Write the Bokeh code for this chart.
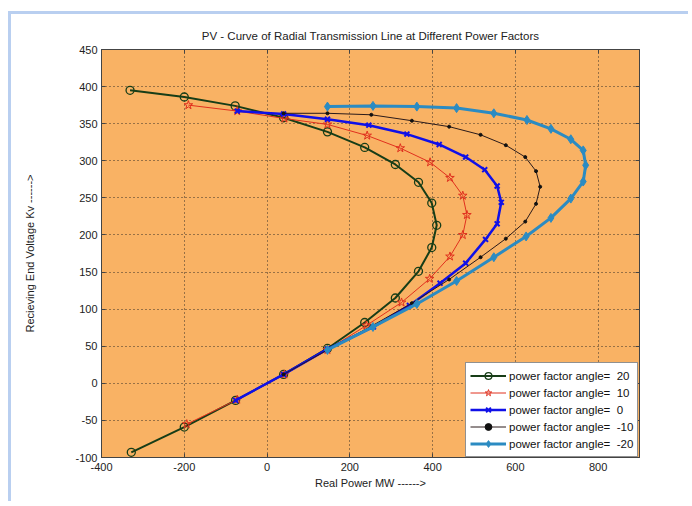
from bokeh.plotting import figure
from bokeh.models import LinearAxis, Range1d, FixedTicker, Legend
from bokeh.embed import file_html
from bokeh.resources import INLINE

# ---- data ----
series_labels = ["power factor angle=  20", "power factor angle=  10",
                 "power factor angle=  0", "power factor angle=  -10",
                 "power factor angle=  -20"]

g_x = [-331, -200, -77, 40, 146, 236, 310, 366, 398, 410, 398, 366, 310, 236, 146, 40, -76, -200, -328]
g_y = [395, 386, 374, 358, 339, 318, 295, 271, 243, 213, 183, 151, 115, 82, 47, 12, -23, -59, -93]

r_x = [-190, -72, 42, 146, 242, 322, 394, 442, 473, 483, 473, 442, 393, 325, 240, 146, 42, -72, -194]
r_y = [375, 367, 357, 349, 334, 317, 298, 277, 253, 227, 200, 171, 141, 109, 78, 45, 12, -22, -55]

b_x = [-72, 40, 146, 246, 338, 416, 480, 526, 556, 566, 556, 528, 480, 418, 344, 257, 146, 40, -76]
b_y = [367, 363, 356, 348, 336, 322, 305, 288, 266, 244, 215, 194, 162, 135, 105, 76, 46, 12, -23]

k_x = [40, 146, 252, 350, 440, 516, 577, 624, 650, 660, 650, 624, 577, 516, 440, 350, 252, 146, 40]
k_y = [364, 364, 362, 354, 346, 335, 321, 305, 286, 265, 242, 218, 195, 170, 140, 108, 77, 45, 12]

c_x = [146, 256, 362, 458, 548, 628, 686, 734, 764, 770, 764, 734, 686, 626, 548, 458, 362, 256, 146]
c_y = [373, 374, 373, 371, 364, 355, 343, 329, 314, 294, 272, 249, 223, 198, 170, 138, 107, 76, 45]

x_ticks = [-400, -200, 0, 200, 400, 600, 800]
y_ticks = [-100, -50, 0, 50, 100, 150, 200, 250, 300, 350, 400, 450]

FONT = "Liberation Sans"

p = figure(width=680, height=490, output_backend="svg", toolbar_location=None,
           x_range=Range1d(-400, 900), y_range=Range1d(-100, 450),
           min_border_left=90, min_border_top=35, min_border_right=52, min_border_bottom=47,
           background_fill_color="#f9b264", border_fill_color="white",
           title="PV - Curve of Radial Transmission Line at Different Power Factors")
p.styles = {"border-left": "3px solid #b9cff0", "border-top": "3px solid #b9cff0",
            "margin-top": "11px", "margin-left": "8px"}

p.title.align = "center"
p.title.text_font = FONT
p.title.text_font_size = "11.5px"
p.title.text_font_style = "normal"
p.title.text_color = "#222222"
p.title.offset = 0
p.title.standoff = 16

p.outline_line_color = "#444444"
p.outline_line_width = 1

for ax in (p.xaxis[0], p.yaxis[0]):
    ax.major_label_text_font = FONT
    ax.major_label_text_font_size = "11px"
    ax.major_label_text_color = "#222222"
    ax.axis_label_text_font = FONT
    ax.axis_label_text_font_size = "11px"
    ax.axis_label_text_font_style = "normal"
    ax.axis_label_text_color = "#222222"
    ax.major_tick_in = 4
    ax.major_tick_out = 0
    ax.minor_tick_line_color = None
    ax.axis_line_color = "#444444"
    ax.major_tick_line_color = "#444444"

p.xaxis[0].ticker = FixedTicker(ticks=x_ticks)
p.yaxis[0].ticker = FixedTicker(ticks=y_ticks)
p.xaxis[0].major_label_overrides = {t: str(t) for t in x_ticks}
p.yaxis[0].major_label_overrides = {t: str(t) for t in y_ticks}
p.xaxis[0].axis_label = "Real Power MW ------>"
p.yaxis[0].axis_label = "Recieving End Voltage Kv ------>"
p.xaxis[0].major_label_standoff = 5
p.xaxis[0].axis_label_standoff = 3
p.yaxis[0].major_label_standoff = 4
p.yaxis[0].axis_label_standoff = 36

top = LinearAxis(ticker=FixedTicker(ticks=x_ticks), major_label_text_font_size="1px",
                 major_label_text_color=None,
                 major_tick_in=4, major_tick_out=0, minor_tick_line_color=None,
                 axis_line_color="#444444", major_tick_line_color="#444444")
right = LinearAxis(ticker=FixedTicker(ticks=y_ticks), major_label_text_font_size="1px",
                   major_label_text_color=None,
                   major_tick_in=4, major_tick_out=0, minor_tick_line_color=None,
                   axis_line_color="#444444", major_tick_line_color="#444444")
p.add_layout(top, "above")
p.add_layout(right, "right")

p.xgrid.ticker = FixedTicker(ticks=x_ticks)
p.ygrid.ticker = FixedTicker(ticks=y_ticks)
for gr in (p.xgrid[0], p.ygrid[0]):
    gr.grid_line_color = "#222222"
    gr.grid_line_dash = "1 3"
    gr.grid_line_width = 1
    gr.grid_line_alpha = 0.9

# green, circles
l1 = p.line(g_x, g_y, line_color="#173d17", line_width=2)
m1 = p.scatter(g_x, g_y, marker="circle", size=8, line_color="#173d17", fill_color=None, line_width=1.3)
# red, stars
l2 = p.line(r_x, r_y, line_color="#e0301e", line_width=1)
m2 = p.scatter(r_x, r_y, marker="star", size=9, line_color="#e0301e", fill_color=None, line_width=1)
# blue, x
l3 = p.line(b_x, b_y, line_color="#1010e8", line_width=2.5)
m3 = p.scatter(b_x, b_y, marker="x", size=7, line_color="#1010e8", line_width=2)
# black, dots
l4 = p.line(k_x, k_y, line_color="#2a1a1a", line_width=1)
m4 = p.scatter(k_x, k_y, marker="circle", size=3, line_color="#111111", fill_color="#111111")
# cyan, diamonds
l5 = p.line(c_x, c_y, line_color="#2b8bc2", line_width=3)
m5 = p.scatter(c_x, c_y, marker="diamond", size=9, line_color="#2b8bc2", fill_color="#2b8bc2")

legend = Legend(items=[(series_labels[0], [l1, m1]), (series_labels[1], [l2, m2]),
                       (series_labels[2], [l3, m3]), (series_labels[3], [l4, m4]),
                       (series_labels[4], [l5, m5])],
                location=(364, 0))
legend.margin = 0
legend.padding = 4
legend.spacing = 0
legend.label_height = 17
legend.glyph_height = 17
legend.glyph_width = 36
legend.label_standoff = 3
legend.label_text_font = FONT
legend.label_text_font_size = "11.5px"
legend.label_text_color = "#111111"
legend.border_line_color = "#222222"
legend.border_line_width = 1
legend.background_fill_color = "white"
legend.background_fill_alpha = 1
p.add_layout(legend, "center")

open("out.html", "w").write(file_html(p, INLINE))
